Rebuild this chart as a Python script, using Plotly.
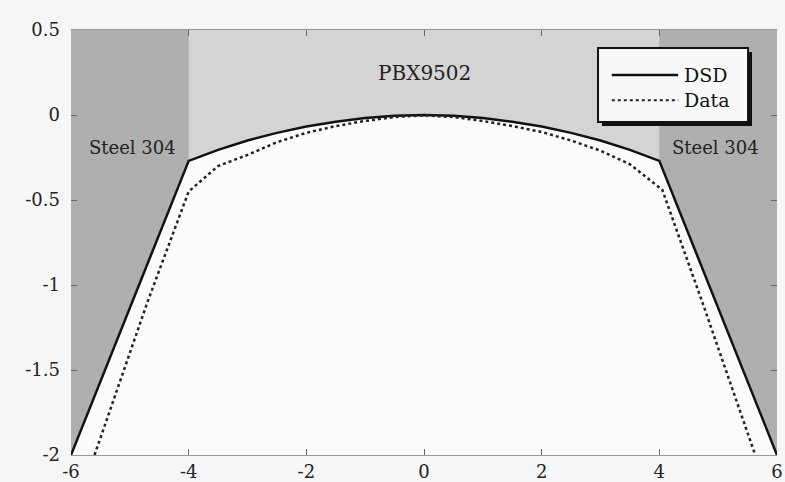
import plotly.graph_objects as go

# DSD model profile
dsd_x = [-6.0, -4.0, -3.5, -3.0, -2.5, -2.0, -1.5, -1.0, -0.5, 0.0, 0.5, 1.0, 1.5, 2.0, 2.5, 3.0, 3.5, 4.0, 6.0]
dsd_y = [-2.0, -0.27, -0.205, -0.15, -0.105, -0.068, -0.04, -0.018, -0.005, 0.0, -0.005, -0.018, -0.04, -0.068, -0.105, -0.15, -0.205, -0.27, -2.0]

# Measured data
data_x = [-5.6, -4.7, -4.0, -3.5, -3.0, -2.5, -2.0, -1.5, -1.0, -0.5, 0.0, 0.5, 1.0, 1.5, 2.0, 2.5, 3.0, 3.5, 4.05, 4.75, 5.63]
data_y = [-2.0, -1.1, -0.45, -0.3, -0.235, -0.16, -0.105, -0.065, -0.035, -0.012, -0.002, -0.012, -0.035, -0.065, -0.1, -0.15, -0.21, -0.29, -0.44, -1.12, -2.0]

x_ticks = [-6, -4, -2, 0, 2, 4, 6]
x_tick_text = ["-6", "-4", "-2", "0", "2", "4", "6"]
y_ticks = [0.5, 0, -0.5, -1, -1.5, -2]
y_tick_text = ["0.5", "0", "-0.5", "-1", "-1.5", "-2"]

pbx_x = [-4, 4]
steel_labels = [("Steel 304", -4.95, -0.19), ("Steel 304", 4.95, -0.19)]
pbx_label = ("PBX9502", 0.0, 0.25)
legend_names = ["DSD", "Data"]

STEEL = "#afafaf"
PBX = "#d4d4d4"
INNER = "#fbfbfb"
FONT = "DejaVu Serif"

fig = go.Figure()

# white interior under the DSD profile
fig.add_trace(go.Scatter(x=dsd_x, y=dsd_y, mode="none", fill="toself",
                         fillcolor=INNER, showlegend=False, hoverinfo="skip"))
fig.add_trace(go.Scatter(x=dsd_x, y=dsd_y, mode="lines", name=legend_names[0],
                         line=dict(color="#111111", width=2.5), showlegend=False))
fig.add_trace(go.Scatter(x=data_x, y=data_y, mode="lines", name=legend_names[1],
                         line=dict(color="#222222", width=2.5, dash="dot"), showlegend=False))

fig.add_shape(type="rect", xref="x", yref="y", x0=pbx_x[0], x1=pbx_x[1], y0=-2, y1=0.5,
              fillcolor=PBX, line=dict(width=0), layer="below")

# legend box with drop shadow
fig.add_shape(type="rect", xref="paper", yref="paper",
              x0=0.752, x1=0.9646, y0=0.774, y1=0.948,
              fillcolor="#111111", line=dict(width=0), layer="above")
fig.add_shape(type="rect", xref="paper", yref="paper",
              x0=0.7465, x1=0.959, y0=0.7835, y1=0.9576,
              fillcolor="#f8f8f8", line=dict(width=2, color="#111111"), layer="above")
fig.add_shape(type="line", xref="paper", yref="paper",
              x0=0.766, x1=0.860, y0=0.894, y1=0.894,
              line=dict(color="#111111", width=2.5), layer="above")
fig.add_shape(type="line", xref="paper", yref="paper",
              x0=0.766, x1=0.860, y0=0.835, y1=0.835,
              line=dict(color="#222222", width=2, dash="dot"), layer="above")
for name, yy in zip(legend_names, [0.894, 0.835]):
    fig.add_annotation(xref="paper", yref="paper", x=0.8655, y=yy, text=name,
                       showarrow=False, xanchor="left", yanchor="middle",
                       font=dict(family=FONT, size=19, color="#111111"))

for txt, xx, yy in steel_labels:
    fig.add_annotation(x=xx, y=yy, text=txt, showarrow=False,
                       font=dict(family=FONT, size=18, color="#222222"))
fig.add_annotation(x=pbx_label[1], y=pbx_label[2], text=pbx_label[0], showarrow=False,
                   font=dict(family=FONT, size=20, color="#222222"))

fig.update_layout(
    width=785, height=482,
    margin=dict(l=71, r=8, t=30, b=27),
    paper_bgcolor="#f6f6f6",
    plot_bgcolor=STEEL,
    font=dict(family=FONT, size=18, color="#222222"),
    showlegend=False,
)
fig.update_xaxes(range=[-6, 6], tickvals=x_ticks, ticktext=x_tick_text,
                 ticks="inside", ticklen=6, tickcolor="#666666", showgrid=False,
                 zeroline=False, showline=True, linecolor="#999999", linewidth=1,
                 mirror="ticks", automargin=False,
                 tickfont=dict(family=FONT, size=18, color="#222222"))
fig.update_yaxes(range=[-2, 0.5], tickvals=y_ticks, ticktext=y_tick_text,
                 ticks="inside", ticklen=6, tickcolor="#666666", showgrid=False,
                 zeroline=False, showline=False, mirror="ticks", automargin=False,
                 ticklabelstandoff=10, tickfont=dict(family=FONT, size=18, color="#222222"))

fig.write_html(
    "out.html",
    config={"displayModeBar": False},
    post_script="document.body.style.margin='0';document.body.style.overflow='hidden';",
)
